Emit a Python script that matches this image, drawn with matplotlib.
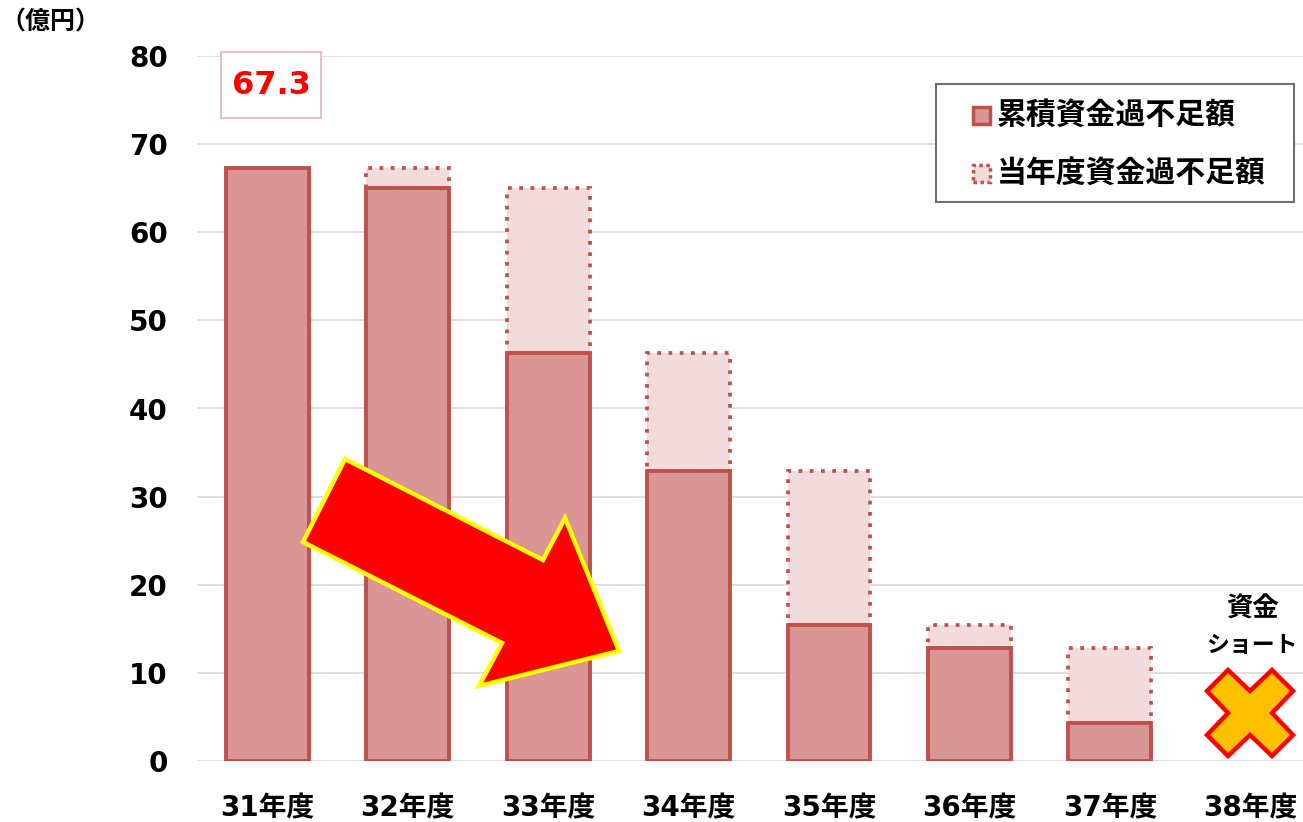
import numpy as np
import matplotlib
matplotlib.use("Agg")
import matplotlib.pyplot as plt
from matplotlib.patches import Polygon, Rectangle

plt.rcParams["font.family"] = ["DejaVu Sans", "Noto Sans CJK JP"]
plt.rcParams["font.weight"] = "bold"

# data (億円)
years = ["31年度", "32年度", "33年度", "34年度", "35年度", "36年度", "37年度", "38年度"]
cumulative = [67.3, 65.0, 46.3, 32.9, 15.4, 12.8, 4.3]      # 累積資金過不足額
previous = [None, 67.3, 65.0, 46.3, 32.9, 15.4, 12.8]      # top of 当年度 dotted box
legend_labels = ["累積資金過不足額", "当年度資金過不足額"]
short_lines = ["資金", "ショート"]

solid_face = "#D99694"
solid_edge = "#C0504D"
dot_face = "#F2DCDB"
grid_col = "#D9D9D9"
dot_style = (0, (1, 2.0))

W, H = 1303, 822
fig = plt.figure(figsize=(W / 100, H / 100), dpi=100)
ax = fig.add_axes([197 / W, 1 - 761 / H, (W - 197) / W, (761 - 56) / H])


def fx(px):
    return px / W


def fy(py):
    return 1 - py / H


x = np.arange(len(years))
bw = 0.59

# current-year deficit (dotted boxes)
for i, (c, p) in enumerate(zip(cumulative, previous)):
    if p is None:
        continue
    ax.bar(i, p - c, bottom=c, width=bw, color=dot_face, edgecolor=solid_edge,
           linewidth=2.7, linestyle=dot_style, zorder=2)

# cumulative
ax.bar(x[:len(cumulative)], cumulative, width=bw, color=solid_face,
       edgecolor=solid_edge, linewidth=2.8, zorder=3)

ax.set_xlim(-0.5, (W - 267.5) / 140.4)
ax.set_ylim(0, 80)
ax.set_yticks(np.arange(0, 81, 10))
ax.set_xticks(x)
ax.set_xticklabels(years)
ax.tick_params(axis="both", length=0, labelsize=20)
ax.tick_params(axis="y", pad=21)
ax.tick_params(axis="x", pad=24)
ax.grid(axis="y", color=grid_col, linewidth=1.2, zorder=0)
ax.set_axisbelow(True)
for s in ax.spines.values():
    s.set_visible(False)

# first year value box
fig.patches.append(Rectangle((fx(221), fy(118)), fx(100), 66 / H, transform=fig.transFigure,
                             fc="white", ec="#E6B9B8", lw=1.3, zorder=5))
fig.text(fx(271), fy(86), f"{cumulative[0]:.1f}", color="#FF0000", fontsize=23,
         fontweight="bold", ha="center", va="center", zorder=6)

# legend box drawn by hand to match the spacing
fig.patches.append(Rectangle((fx(936), fy(202)), fx(358), 118 / H, transform=fig.transFigure,
                             fc="white", ec="#6F6F6F", lw=1.5, zorder=5))
fig.patches.append(Rectangle((fx(973), fy(124)), fx(17), 17 / H, transform=fig.transFigure,
                             fc=solid_face, ec=solid_edge, lw=2.5, zorder=6))
fig.patches.append(Rectangle((fx(973), fy(182)), fx(17), 17 / H, transform=fig.transFigure,
                             fc=dot_face, ec=solid_edge, lw=2.5, ls=(0, (1, 1)), zorder=6))
for lab, py in zip(legend_labels, [115, 173]):
    fig.text(fx(997), fy(py), lab, fontsize=21.5, fontweight="bold",
             ha="left", va="center", zorder=6)

# 38年度: fund short
fig.text(fx(1252), fy(610), short_lines[0], ha="center", va="center",
         fontsize=19, fontweight="bold", zorder=6)
fig.text(fx(1252), fy(645), short_lines[1], ha="center", va="center",
         fontsize=16.5, fontweight="bold", zorder=6)
ax.plot([7], [5.45], marker="X", markersize=62, markerfacecolor="#FFC000",
        markeredgecolor="#FF0000", markeredgewidth=3.2, zorder=5, clip_on=False)

# unit label
fig.text(fx(0), fy(22), "（億円）", fontsize=18, fontweight="bold",
         ha="left", va="center")

# big downward arrow (pixel outline)
arrow_px = [(345, 459), (543, 560), (565, 518), (619, 651),
            (479, 686), (502, 643), (303, 542)]
arrow = Polygon([(fx(px), fy(py)) for px, py in arrow_px], closed=True,
                transform=fig.transFigure, facecolor="#FF0000",
                edgecolor="#FFFF00", linewidth=3.2, joinstyle="miter", zorder=6)
fig.patches.append(arrow)

fig.savefig("out.png", dpi=100)
